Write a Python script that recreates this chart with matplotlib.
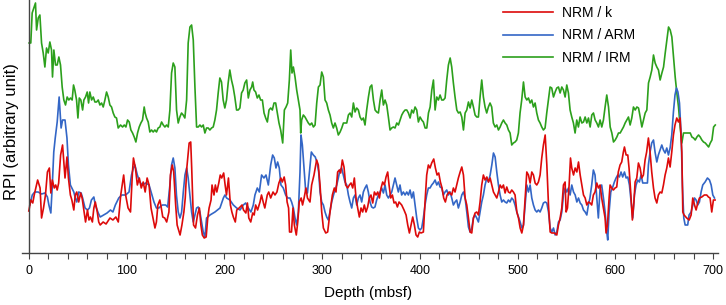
import matplotlib
matplotlib.use('Agg')
import matplotlib.pyplot as plt
from matplotlib.ticker import MultipleLocator

plt.rcParams['font.family'] = ['Liberation Sans', 'DejaVu Sans']

# NRM / k
k_depth = [0, 2, 4, 5.5, 9, 11.5, 13, 15, 17, 19, 21, 22.5, 24, 26, 27.5, 29, 30.5, 32.5, 34.5, 36,
           37, 39, 40.5, 42.5, 44, 46, 47.5, 49, 51, 53, 54.5, 56, 58, 60, 61.5, 63, 65, 66.5, 68, 70,
           71.5, 73, 76, 79, 83, 86, 89, 91.5, 94, 97, 99, 101.5, 104, 106, 107, 109, 111, 113, 115, 117,
           119, 121, 123, 125, 127, 129, 130.5, 132, 134, 135.5, 137, 139, 141, 143.3, 144.8, 146.7, 148.2,
           150.2, 151.7, 154.7, 156.6, 158.6, 160, 161.6, 164, 165.6, 166.6, 168.5, 170.5, 172.5, 174.5,
           176, 177.5, 179.4, 181.4, 183, 184.4, 186.4, 187.4, 189.4, 190.8, 192.3, 194.3, 195.8, 197.3,
           199.3, 200.8, 202.2, 204.2, 206.2, 207.7, 209.2, 211.2, 212.7, 215.1, 218.1, 219.6, 222, 223.6,
           225, 227, 229, 230.5, 232, 234, 236.5, 238, 240, 241.4, 243.9, 245.4, 247.4, 249.8, 251.8, 253.8,
           255.8, 257.8, 259.3, 261.2, 262.7, 264.2, 265.7, 266.7, 268.7, 270.2, 271.6, 273.6, 275.1, 276.6,
           278.6, 280, 281.6, 283.5, 285, 287.6, 289.3, 291.7, 294.4, 296.1, 297.9, 299.6, 301.3, 303.7,
           305.7, 308.1, 310.5, 312.5, 314.2, 315.9, 317.6, 319, 320.7, 322.4, 324.1, 326.2, 327.9, 329.6,
           331.3, 333, 334.7, 336.4, 338.1, 339.8, 341.5, 343.2, 344.9, 346.6, 348.3, 350, 351.8, 353.5,
           355.2, 356.9, 358.6, 360.3, 362, 363.7, 365.4, 367.1, 368.5, 370.2, 371.9, 373.6, 375.3, 377,
           378.7, 381.4, 383.8, 385.9, 387.6, 389.3, 391, 392.7, 394.4, 396.1, 397.8, 399.5, 401.2, 403.6,
           405.3, 407, 408.7, 410.4, 412.1, 414.2, 415.9, 417.6, 419.3, 421, 422.7, 424.4, 426.1, 427.8,
           429.9, 432.6, 434.3, 436, 437.7, 439.4, 441.2, 442.9, 444.6, 446.3, 448, 449.7, 451.4, 453.1,
           454.8, 456.5, 458.2, 459.9, 461.6, 463.3, 465, 466.7, 468.5, 470.2, 471.9, 473.6, 475.3, 477,
           478.7, 480.4, 482.1, 483.8, 485.5, 487.2, 488.9, 490.6, 492.3, 494, 495.7, 497.4, 499.2, 500.9,
           502.6, 504.3, 506, 507.7, 509.4, 511.1, 512.8, 514.5, 516.2, 517.9, 519.6, 521.3, 523, 524.7,
           526.4, 528.2, 529.9, 531.6, 533.3, 535, 537.7, 540.1, 541.8, 543.5, 545.2, 546.9, 548.6, 549.6,
           551, 552.7, 554.1, 555.4, 557.2, 558.9, 560.6, 562.3, 564, 565.7, 567.4, 569.1, 570.8, 572.5,
           574.2, 575.8, 577.5, 579.2, 581, 582.6, 584.4, 586, 587.8, 589.5, 590.5, 591.9, 593.6, 594.6,
           596.3, 598, 599.7, 601.4, 603, 604.8, 606.5, 608.2, 609.3, 611, 612.7, 614, 615.7, 617.4, 619,
           620.2, 621.9, 623.6, 625.3, 627, 628.7, 630.4, 632, 633.8, 635.5, 637.2, 639, 640.6, 642.4, 644,
           645.8, 647.5, 649.2, 650.9, 652.6, 654.3, 656, 657.7, 659.4, 661, 662.8, 664.5, 666.2, 668, 669,
           670.3, 673, 675.5, 677.5, 679.2, 681, 682.6, 684.3, 686, 688.4, 691, 693.5, 695.2, 696.9, 698.6,
           700.3, 702]
k_rpi = [42, 53, 50, 58, 73, 65, 35, 45, 58, 81, 85, 60, 73, 65, 68, 63, 70, 98, 108, 88,
         75, 96, 75, 58, 53, 43, 58, 61, 51, 60, 55, 45, 31, 43, 33, 36, 31, 45, 51, 41,
         31, 28, 31, 29, 35, 33, 36, 31, 58, 78, 58, 45, 41, 81, 95, 85, 68, 75, 65, 71,
         61, 75, 68, 45, 35, 25, 31, 48, 53, 45, 36, 35, 31, 41, 78, 88, 81,
         48, 28, 18, 28, 41, 55, 85, 110, 111, 85, 28, 25, 38, 45,
         28, 18, 15, 16, 35, 45, 53, 68, 58, 68, 61, 70, 78, 75,
         80, 68, 58, 75, 48, 41, 36, 31, 43, 45, 48, 43, 40, 50,
         35, 31, 40, 38, 48, 43, 51, 58, 50, 45, 58, 61, 55, 61, 58, 61,
         70, 75, 71, 76, 68, 51, 45, 21, 21, 45, 28, 18, 31, 51,
         55, 48, 55, 65, 55, 51, 68, 78, 93, 88, 68, 41, 25, 20,
         21, 41, 58, 65, 61, 81, 83, 80, 93, 86, 68, 65, 68, 70,
         65, 75, 55, 45, 36, 45, 41, 48, 41, 46, 55, 58, 50, 61,
         58, 61, 55, 65, 71, 68, 76, 81, 68, 55, 58, 50, 51, 46,
         51, 48, 43, 38, 28, 20, 28, 36, 28, 18, 16, 21, 20, 21,
         51, 78, 88, 85, 90, 94, 85, 78, 80, 71, 65, 55, 51, 58,
         61, 58, 65, 61, 68, 75, 81, 86, 78, 55, 48, 35, 21, 20,
         35, 40, 41, 38, 51, 68, 78, 73, 76, 71, 75, 68, 61, 58,
         55, 61, 68, 65, 68, 60, 66, 61, 60, 63, 61, 58, 41, 35,
         25, 20, 28, 55, 81, 78, 70, 81, 78, 70, 68, 71, 78, 95,
         108, 118, 88, 48, 21, 20, 20, 18, 28, 35, 45, 68, 71, 41,
         45, 68, 95, 85, 78, 85, 81, 91, 78, 68, 58, 55, 48, 51,
         50, 48, 58, 61, 70, 65, 68, 55, 45, 35, 20, 28, 55, 68,
         65, 63, 65, 66, 81, 88, 91, 101, 106, 98, 98, 85, 61, 33, 51,
         71, 75, 90, 85, 75, 78, 93, 101, 115, 101, 81, 65, 55, 50, 58,
         61, 60, 68, 78, 85, 95, 86, 101, 118, 128, 135, 131, 135, 101, 41,
         38, 35, 33, 38, 55, 48, 43, 50, 55, 56, 58, 58, 56, 55, 41,
         53, 53]

# NRM / ARM
arm_depth = [1, 3.5, 6, 9.5, 13, 16.5, 19, 20.5, 22.5, 24, 25.5, 27, 29, 31, 33, 34.5, 37, 39, 40.5,
             42.5, 44, 46, 47.5, 49, 51, 53.5, 55, 57.5, 60, 62, 64, 66.5, 68, 71, 73, 76.5, 80, 83.5,
             86, 88.5, 92, 95, 99, 102.5, 105, 107, 108.5, 111, 113.5, 116, 119.5, 123, 126, 128, 130.5,
             133, 136.5, 140, 142, 144.3, 146, 147.7, 149.4, 151, 152.8, 154.6, 156.3, 158, 159.7, 161.4,
             163, 164.8, 166.5, 168.2, 169.9, 171.6, 173.3, 175, 176.7, 178.4, 180.1, 181.8, 185.3, 190.4,
             195.5, 199, 200.6, 202.3, 205.7, 209.2, 212.6, 216, 219.4, 221.8, 224.5, 227.2, 229.6, 231.3,
             233.7, 235.8, 238.1, 240.5, 242.6, 245, 247.4, 249.4, 251.1, 252.8, 254.5, 256.2, 257.9,
             260.3, 262.7, 264.8, 267.1, 268.8, 270.6, 272.3, 274, 275.7, 277.4, 278.4, 279.8, 281.5,
             283.2, 285, 287, 289, 291, 293, 295, 296.5, 297.9, 299.6, 301.3, 303, 304.7, 306.4, 308,
             309.8, 312.5, 315, 316.6, 318.3, 320, 321.7, 323.4, 325.2, 326.9, 328.6, 330.3, 332, 333.7,
             335.4, 337.1, 338.8, 340.5, 342.2, 343.9, 345.6, 347.3, 349, 350.7, 352.4, 354.1, 355.8,
             357.6, 359.3, 361, 362.7, 364.4, 366.1, 367.8, 369.5, 371.2, 372.9, 374.6, 376.3, 378, 379.7,
             381.4, 383.1, 384.9, 386.6, 388.3, 390, 391.7, 393.4, 395.1, 396.8, 398.5, 400.2, 401.9,
             403.6, 405.3, 407, 408.7, 410.4, 412.1, 413.8, 415.6, 417.3, 419, 420.7, 422.4, 424.1, 425.8,
             427.5, 429.2, 431, 432.6, 434.3, 436, 437.7, 439.4, 441.2, 442.9, 444.6, 446.3, 448, 449.7,
             451.4, 453.1, 454.8, 456.5, 458.2, 459.9, 461.6, 463.3, 465, 466.7, 468.5, 470.2, 471.9,
             473.6, 475.3, 477, 478.7, 480.4, 482.1, 483.8, 485.5, 487.2, 488.9, 490.6, 492.3, 494, 495.7,
             497.4, 499.2, 500.9, 502.6, 504.3, 506, 507.7, 509.4, 511.1, 512.8, 514.5, 516.2, 517.9,
             519.6, 521.3, 523, 524.7, 526.4, 528.2, 529.9, 531.6, 533.3, 535, 536.7, 538.4, 540.1, 541.8,
             543.5, 545.2, 546.9, 548.6, 550.3, 552, 553.7, 555.4, 557.2, 558.9, 560.6, 562.3, 564, 565.7,
             567.4, 569.1, 570.8, 572.4, 574, 575.8, 577.5, 579.2, 581, 582.6, 584.4, 586, 587.8, 589.5,
             591.2, 592.2, 593.6, 595.3, 597, 599, 600.7, 602.4, 604.1, 605.8, 607.5, 609.3, 611, 612.7,
             614.4, 616.1, 617.8, 619.5, 621.2, 622.9, 624.6, 626.3, 628, 630.4, 632.8, 633.8, 635.5,
             637.2, 639, 640.6, 642.4, 644, 645.8, 647.5, 649.2, 650.9, 652.6, 654.3, 656, 657.7, 659.4,
             661, 662.5, 664, 665.6, 667.3, 668.6, 670, 671.4, 674, 675.4, 677.5, 679.2, 681, 682.6, 684.3,
             686, 687.7, 689.4, 691.8, 694.2, 696.3, 698, 699.7, 701.4]
arm_rpi = [48, 58, 61, 61, 59, 60, 56, 48, 40, 68, 101, 115, 131, 156, 125, 133, 133, 115, 88,
           68, 65, 61, 55, 51, 61, 60, 55, 45, 43, 45, 53, 56, 48, 40, 36, 38, 40, 43,
           41, 48, 55, 58, 58, 61, 78, 85, 88, 78, 71, 68, 70, 68, 58, 51, 45,
           45, 48, 48, 46, 68, 88, 95, 85, 58, 41, 35, 41, 61, 78, 85,
           75, 58, 41, 31, 38, 45, 46, 41, 31, 21, 16, 35, 38, 41,
           45, 55, 58, 55, 53, 48, 45, 43, 48, 50, 45, 41, 48, 58,
           65, 61, 78, 75, 78, 68, 88, 98, 95, 85, 91, 85, 68,
           65, 58, 55, 55, 51, 45, 35, 28, 41, 81, 118, 108, 85,
           62, 60, 80, 101, 98, 96, 90, 81, 61, 51, 48, 41, 36, 33, 41,
           51, 61, 68, 75, 83, 85, 78, 71, 68, 58, 51, 45, 55, 58,
           48, 55, 58, 51, 61, 65, 68, 61, 51, 46, 45, 46, 53,
           58, 61, 65, 60, 68, 58, 55, 58, 61, 68, 75, 68, 61, 68,
           58, 61, 58, 61, 58, 63, 55, 61, 48, 35, 25, 23, 25,
           35, 48, 58, 65, 65, 68, 70, 73, 68, 71, 66, 65, 58, 61,
           63, 58, 61, 55, 48, 51, 53, 45, 51, 58, 61, 55, 41, 26,
           21, 25, 35, 38, 35, 31, 41, 51, 58, 68, 75, 71, 78,
           88, 100, 96, 81, 68, 58, 51, 53, 51, 50, 53, 51, 55, 53,
           48, 41, 36, 31, 25, 28, 48, 68, 61, 68, 55, 48, 43,
           41, 43, 41, 45, 50, 51, 50, 41, 25, 21, 25, 18, 21, 31,
           33, 41, 58, 65, 61, 65, 58, 68, 61, 58, 51, 55, 50, 48,
           43, 41, 38, 48, 55, 68, 83, 78, 55, 35, 65, 68, 55, 41,
           21, 13, 41, 61, 65, 71, 75, 78, 76, 81, 76, 81, 75, 76,
           68, 51, 35, 58, 68, 73, 71, 78, 70, 70, 70, 88, 101,
           110, 113, 101, 91, 98, 103, 108, 103, 100, 105, 98, 105, 118, 141,
           158, 165, 161, 150, 118, 68, 35, 28, 28, 38, 41, 48, 55, 53, 48,
           51, 61, 68, 71, 75, 73, 68, 58, 55]

# NRM / IRM
irm_depth = [0.3, 2, 3.4, 5.5, 6.8, 7.9, 9.6, 11.3, 13, 14.7, 16.4, 18.1, 19.8, 21.5, 23.2, 24.2, 25.6,
             27.3, 29, 30.7, 32.4, 34.1, 35.8, 37.5, 39.2, 40.9, 42.6, 44.3, 45.7, 47, 48.8, 50.2, 51.6,
             53.2, 55, 56.3, 58, 59.7, 61.1, 62.4, 64.2, 65.9, 67.6, 69.3, 71, 72.7, 74.4, 76.1, 77.8,
             79.5, 81.2, 82.9, 84.6, 86.3, 88, 89.7, 91.4, 93.8, 95.9, 97.6, 99.3, 101, 102.7, 104.4,
             106.1, 107.8, 109.5, 111.2, 112.9, 114.6, 116.3, 118, 119, 120.4, 122.1, 123.8, 125.5, 127.2,
             128.9, 130.6, 132.3, 134, 135.8, 137.5, 139.2, 140.9, 142.6, 144.3, 146, 147.7, 149.4, 151.1,
             152.8, 154.5, 156.2, 157.9, 159.6, 161.4, 163, 164.8, 166.5, 168.2, 169.9, 171.6, 173.3, 175,
             176.7, 178.4, 180.1, 181.8, 183.5, 185.2, 186.9, 188.6, 190.3, 192, 193.7, 195.4, 197.1,
             198.8, 200.5, 202.2, 203.9, 205.6, 207.3, 209, 210.7, 212.5, 214.2, 215.9, 217.6, 219.3, 221,
             222.8, 224.5, 226.2, 227.9, 229, 230.3, 232, 233.7, 235.4, 237.1, 238.9, 240.6, 242.3, 244,
             245.7, 247.4, 249.1, 250.8, 252.5, 254.2, 255.9, 257.6, 259.7, 261.4, 263.1, 264.8, 266.5,
             267.9, 269.2, 270.6, 272.3, 274, 275.7, 277.4, 278.1, 279.1, 280.8, 282.5, 284.2, 285.9,
             287.6, 289.4, 291.1, 292.8, 294.5, 296.2, 297.9, 299.6, 301.3, 303, 304.7, 306.4, 308.1,
             309.8, 311.5, 313.2, 314.9, 316.6, 318.4, 320.1, 321.8, 323.5, 325.2, 326.9, 328.6, 330.3,
             332, 333.7, 335.4, 337.1, 338.8, 340.5, 342.2, 343.9, 345.6, 347.4, 349.1, 350.8, 352.5,
             354.2, 355.9, 357.6, 359.3, 361, 362.7, 364.4, 366.1, 367.8, 369.5, 371.2, 372.9, 374.6,
             376.4, 378.1, 379.8, 381.5, 383.2, 384.9, 386.6, 388.3, 390, 391.7, 393.4, 395.1, 396.8,
             398.5, 400.2, 401.9, 403.6, 405.4, 407.1, 408.8, 410.5, 412.2, 413.9, 415.6, 417.3, 419,
             420.7, 422.4, 424.1, 425.8, 427.5, 429.2, 431, 432.6, 434.3, 436, 437.8, 439.5, 441.2, 442.9,
             444.6, 446.3, 448, 449.7, 451.4, 453.1, 454.8, 456.5, 458.2, 459.9, 461.6, 463.3, 465,
             466.7, 468.4, 470.1, 471.8, 473.5, 475.2, 477, 478.7, 480.4, 482.1, 483.8, 485.5, 487.2,
             488.9, 490.6, 492.3, 494, 495.7, 497.4, 499.1, 500.8, 502.5, 504.2, 506, 507.7, 509.4, 511.1,
             512.8, 514.5, 516.2, 517.9, 519.6, 521.3, 523, 524.7, 526.4, 528.1, 529.8, 531.5, 533.2,
             534.9, 536.7, 538.4, 540.1, 541.8, 543.5, 545.2, 546.9, 548.6, 550.3, 552, 553.7, 555.4,
             557.1, 558.8, 560.5, 562.2, 563.9, 565.7, 567.4, 569.1, 570.8, 572.5, 574.2, 575.9, 577.6,
             579.3, 581, 582.7, 584.4, 586.1, 587.8, 589.5, 591.2, 593, 594.7, 596.4, 598.1, 599.8, 601.5,
             603.2, 604.9, 606.6, 608.3, 610, 611.7, 613.4, 615.1, 616.8, 618.5, 620.3, 622, 623.7, 625.4,
             627.1, 628.8, 630.5, 632.2, 633.9, 635.6, 637.3, 639, 640.7, 642.4, 644.1, 645.8, 647.6,
             649.3, 651, 652.7, 654.4, 656.1, 657.8, 659.5, 661.2, 662.9, 664.6, 666.3, 668, 669.7, 671.4,
             673.2, 674.9, 676.6, 678.3, 680, 681.7, 683.4, 685.1, 686.8, 688.5, 690.2, 692, 693.7, 695.4,
             697.1, 698.8, 700.5, 702.2]
irm_rpi = [210, 210, 240, 246, 250, 223, 235, 238, 210, 200, 186, 205, 200, 211, 203, 176, 203,
           188, 188, 196, 188, 166, 153, 148, 156, 153, 155, 153, 168, 163, 153, 135, 155,
           153, 143, 153, 156, 161, 150, 161, 153, 156, 151, 151, 153, 148, 150, 146, 153,
           161, 156, 148, 146, 140, 136, 135, 125, 128, 126, 128, 126, 133, 131, 123,
           120, 116, 111, 120, 126, 130, 133, 146, 140, 135, 131, 121, 123, 121,
           123, 121, 125, 126, 131, 128, 126, 128, 126, 143, 180, 190, 186, 143,
           130, 136, 140, 138, 135, 153, 210, 226, 228, 213, 166, 126, 126, 128,
           126, 128, 120, 125, 125, 123, 125, 126, 133, 143, 160, 175, 171,
           153, 145, 153, 170, 183, 173, 166, 156, 143, 143, 145, 160, 163, 170,
           173, 155, 163, 166, 171, 163, 161, 155, 158, 153, 153, 140, 135, 131,
           143, 145, 143, 150, 150, 140, 130, 123, 110, 143, 146, 150, 173,
           203, 180, 186, 176, 163, 153, 143, 120, 133, 138, 136, 133, 130,
           128, 130, 126, 128, 150, 166, 168, 181, 176, 153, 150, 143, 138,
           130, 125, 130, 125, 118, 121, 125, 130, 130, 130, 138, 140, 136,
           150, 141, 145, 143, 136, 133, 135, 128, 143, 156, 166, 168, 153,
           143, 141, 140, 153, 163, 148, 153, 148, 136, 123, 125, 126, 125,
           130, 128, 133, 138, 141, 143, 143, 140, 135, 143, 140, 146, 143,
           131, 136, 133, 131, 125, 125, 140, 146, 163, 173, 143, 156, 153,
           158, 153, 153, 155, 173, 188, 195, 186, 170, 156, 143, 140, 141,
           136, 123, 140, 143, 151, 145, 153, 146, 138, 136, 136, 156, 173, 156,
           146, 140, 146, 150, 146, 130, 126, 128, 123, 126, 130, 133, 130,
           128, 123, 120, 108, 110, 111, 113, 120, 140, 153, 171, 156, 153, 155,
           150, 153, 146, 150, 140, 133, 130, 126, 123, 125, 140, 153, 166,
           165, 156, 161, 165, 166, 160, 166, 163, 156, 168, 160, 143, 136,
           130, 120, 133, 126, 136, 130, 131, 136, 130, 135, 126, 138, 140,
           133, 130, 126, 133, 126, 133, 146, 158, 146, 126, 120, 111, 113, 116,
           120, 120, 123, 126, 130, 133, 136, 128, 135, 146, 143, 146, 145, 136,
           126, 133, 140, 143, 170, 176, 183, 198, 190, 186, 183, 173, 180,
           186, 200, 213, 226, 223, 216, 196, 176, 160, 146, 126, 110, 120, 120,
           120, 120, 120, 116, 115, 113, 116, 118, 116, 113, 111, 110, 108, 106,
           110, 113, 126, 128]

fig = plt.figure(figsize=(7.26, 3.05), dpi=100)
ax = fig.add_axes([22 / 726, 52 / 305, 696 / 726, 253 / 305])

l_irm, = ax.plot(irm_depth, irm_rpi, color='#2ca01c', lw=1.2)
l_arm, = ax.plot(arm_depth, arm_rpi, color='#3366c6', lw=1.2)
l_k, = ax.plot(k_depth, k_rpi, color='#dd0a0a', lw=1.2)

ax.set_xlim(-7, 705)
ax.set_ylim(0, 253)
ax.spines['top'].set_visible(False)
ax.spines['right'].set_visible(False)
ax.spines['left'].set_position(('data', 0))
for s in ['left', 'bottom']:
    ax.spines[s].set_color('#444444')
    ax.spines[s].set_linewidth(1.0)
ax.set_yticks([])
ax.xaxis.set_major_locator(MultipleLocator(100))
ax.xaxis.set_minor_locator(MultipleLocator(20))
ax.tick_params(axis='x', which='both', direction='out', length=4, width=0.8,
               color='#444444', labelsize=9, pad=5)

ax.legend([l_k, l_arm, l_irm], ['NRM / k', 'NRM / ARM', 'NRM / IRM'],
          loc='upper left', bbox_to_anchor=(490 / 726, 1.022), bbox_transform=fig.transFigure,
          frameon=False, fontsize=10, handlelength=3.6, handletextpad=0.7, labelspacing=0.62)

fig.text(12 / 726, 1 - 132 / 305, 'RPI (arbitrary unit)', rotation=90,
         ha='center', va='center', fontsize=12)
fig.text(368 / 726, 1 - 293 / 305, 'Depth (mbsf)', ha='center', va='center', fontsize=11)

fig.savefig('out.png', dpi=100)
